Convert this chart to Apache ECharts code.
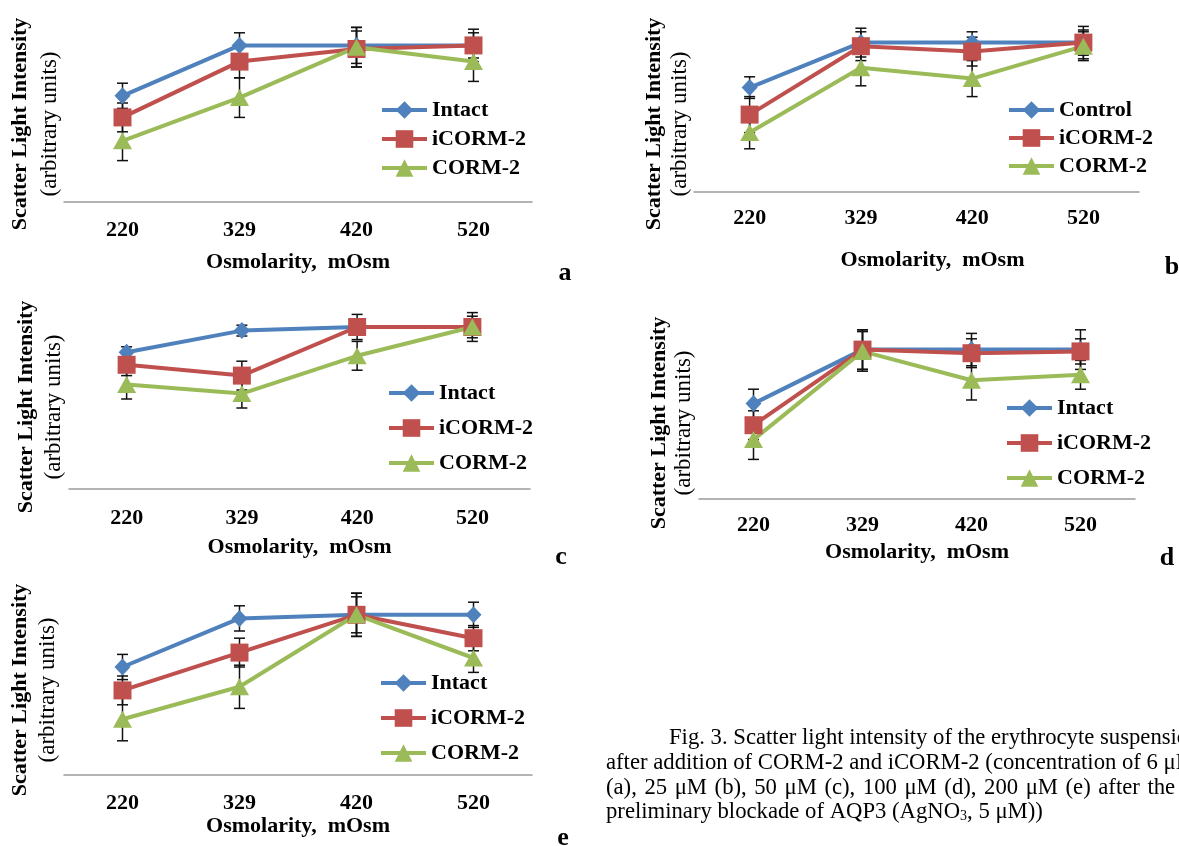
<!DOCTYPE html>
<html>
<head>
<meta charset="utf-8">
<style>
  html, body { margin: 0; padding: 0; background: #fff; }
  #main { width: 1179px; height: 846px; }
</style>
<script src="https://cdn.jsdelivr.net/npm/echarts@6/dist/echarts.min.js"></script>
</head>
<body>
<div id="main"></div>
<script>
var categories = ['220', '329', '420', '520'];
var seriesNames = ['Intact', 'iCORM-2', 'CORM-2'];
var seriesNamesB = ['Control', 'iCORM-2', 'CORM-2'];
var panelLetters = ['a', 'b', 'c', 'd', 'e'];

// relative scatter intensity (arbitrary units) and error
var aIntact = [59, 87, 87, 87],  aIntactErr = [7, 7, 10, 9];
var aICorm  = [47, 78, 85, 87],  aICormErr  = [8, 9, 10, 7];
var aCorm   = [34, 58, 86, 78],  aCormErr   = [11, 11, 11, 11];

var bControl = [58, 83, 83, 83], bControlErr = [6, 8, 6, 9];
var bICorm   = [43, 81, 78, 83], bICormErr   = [10, 8, 8, 7];
var bCorm    = [33, 69, 63, 81], bCormErr    = [9, 10, 10, 8];

var cIntact = [76, 88, 90, 90],  cIntactErr = [3, 3, 3, 3];
var cICorm  = [69, 63, 90, 90],  cICormErr  = [6, 8, 7, 8];
var cCorm   = [58, 53, 74, 90],  cCormErr   = [8, 8, 8, 6];

var dIntact = [53, 83, 83, 83],  dIntactErr = [8, 11, 9, 11];
var dICorm  = [41, 83, 81, 82],  dICormErr  = [8, 11, 8, 7];
var dCorm   = [33, 82, 66, 69],  dCormErr   = [11, 11, 11, 8];

var eIntact = [60, 87, 89, 89],  eIntactErr = [7, 7, 12, 7];
var eICorm  = [47, 68, 89, 76],  eICormErr  = [8, 8, 10, 7];
var eCorm   = [31, 49, 89, 65],  eCormErr   = [12, 12, 12, 8];

// justified caption: line 3 gets a hair space added to each gap
var captionLines = [
    'Fig. 3. Scatter light intensity of the erythrocyte suspension',
    'after addition of CORM-2 and iCORM-2 (concentration of 6 \u03bcM',
    '(a), 25 \u03bcM (b), 50 \u03bcM (c), 100 \u03bcM (d), 200 \u03bcM (e) after the'.split(' ').join(' \u200a'),
    'preliminary blockade of AQP3 (AgNO{sub|3}, 5 \u03bcM))'
];

var colorList = ['#4F81BD', '#C0504D', '#9BBB59'];
var symbols = ['diamond', 'rect', 'triangle'];
var symbolSizes = [[16, 17], 18, [19, 17]];
var serif = '"Liberation Serif", "Times New Roman", serif';

var panels = [
    { names: seriesNames, vals: [aIntact, aICorm, aCorm], errs: [aIntactErr, aICormErr, aCormErr],
      grid: { left: 64, top: 22, width: 468, height: 180 }, labelMargin: 17, nameGap: 49, namePad: 0,
      legend: { left: 380, top: 99, itemGap: 7 }, yTitle: [20, 50, 124], letter: [565, 273] },
    { names: seriesNamesB, vals: [bControl, bICorm, bCorm], errs: [bControlErr, bICormErr, bCormErr],
      grid: { left: 694, top: 12, width: 445, height: 180 }, labelMargin: 15, nameGap: 57, namePad: 32,
      legend: { left: 1007, top: 99, itemGap: 6 }, yTitle: [654, 680, 124], letter: [1172, 267] },
    { names: seriesNames, vals: [cIntact, cICorm, cCorm], errs: [cIntactErr, cICormErr, cCormErr],
      grid: { left: 69, top: 309, width: 461, height: 180 }, labelMargin: 18, nameGap: 47, namePad: 0,
      legend: { left: 387, top: 382, itemGap: 13 }, yTitle: [26, 54, 407], letter: [561, 557] },
    { names: seriesNames, vals: [dIntact, dICorm, dCorm], errs: [dIntactErr, dICormErr, dCormErr],
      grid: { left: 699, top: 319, width: 436, height: 180 }, labelMargin: 15, nameGap: 42, namePad: 0,
      legend: { left: 1005, top: 397, itemGap: 13 }, yTitle: [659, 684, 423], letter: [1167, 558] },
    { names: seriesNames, vals: [eIntact, eICorm, eCorm], errs: [eIntactErr, eICormErr, eCormErr],
      grid: { left: 64, top: 595, width: 468, height: 180 }, labelMargin: 17, nameGap: 37, namePad: 0,
      legend: { left: 379, top: 672, itemGap: 13 }, yTitle: [20, 48, 690], letter: [563, 838] }
];

function renderErr(params, api) {
    var x = api.value(0), v = api.value(1), e = api.value(2);
    var hi = api.coord([x, v + e]);
    var lo = api.coord([x, v - e]);
    var w = 5.5;
    var st = { stroke: '#111', lineWidth: 1.5 };
    return {
        type: 'group',
        children: [
            { type: 'line', shape: { x1: hi[0], y1: hi[1], x2: lo[0], y2: lo[1] }, style: st },
            { type: 'line', shape: { x1: hi[0] - w, y1: hi[1], x2: hi[0] + w, y2: hi[1] }, style: st },
            { type: 'line', shape: { x1: lo[0] - w, y1: lo[1], x2: lo[0] + w, y2: lo[1] }, style: st }
        ]
    };
}

var grids = [], xAxes = [], yAxes = [], legends = [], series = [], graphics = [];

panels.forEach(function (p, k) {
    grids.push(p.grid);
    xAxes.push({
        type: 'category',
        gridIndex: k,
        data: categories,
        boundaryGap: true,
        axisLine: { lineStyle: { color: '#9a9a9a', width: 1.5 } },
        axisTick: { show: false },
        axisLabel: { margin: p.labelMargin, color: '#000', fontFamily: serif, fontWeight: 'bold', fontSize: 22 },
        name: 'Osmolarity,  mOsm',
        nameLocation: 'middle',
        nameGap: p.nameGap,
        nameTextStyle: { color: '#000', fontFamily: serif, fontWeight: 'bold', fontSize: 22,
                         padding: [0, 0, 0, p.namePad] }
    });
    yAxes.push({ type: 'value', gridIndex: k, min: 0, max: 100, show: false });
    legends.push({
        data: p.names,
        orient: 'vertical',
        left: p.legend.left,
        top: p.legend.top,
        itemGap: p.legend.itemGap,
        itemWidth: 45,
        itemHeight: 22,
        padding: 0,
        selectedMode: false,
        lineStyle: { width: 4 },
        textStyle: { color: '#000', fontFamily: serif, fontWeight: 'bold', fontSize: 22, lineHeight: 22 }
    });
    for (var s = 0; s < 3; s++) {
        series.push({
            type: 'line',
            name: p.names[s],
            xAxisIndex: k,
            yAxisIndex: k,
            data: p.vals[s],
            symbol: symbols[s],
            symbolSize: symbolSizes[s],
            showAllSymbol: true,
            z: 3,
            lineStyle: { color: colorList[s], width: 4 },
            itemStyle: { color: colorList[s] },
            emphasis: { disabled: true }
        });
    }
    for (var s2 = 0; s2 < 3; s2++) {
        var vals = p.vals[s2], errs = p.errs[s2];
        series.push({
            type: 'custom',
            name: p.names[s2] + ' error',
            xAxisIndex: k,
            yAxisIndex: k,
            renderItem: renderErr,
            encode: { x: 0, y: 1 },
            data: vals.map(function (v, i) { return [i, v, errs[i]]; }),
            z: 2,
            silent: true
        });
    }
    graphics.push({
        type: 'text', x: p.yTitle[0], y: p.yTitle[2], rotation: Math.PI / 2,
        style: { text: 'Scatter Light Intensity', font: 'bold 22px ' + serif, fill: '#000',
                 textAlign: 'center', textVerticalAlign: 'middle' }
    });
    graphics.push({
        type: 'text', x: p.yTitle[1], y: p.yTitle[2], rotation: Math.PI / 2,
        style: { text: '(arbitrary units)', font: '23px ' + serif, fill: '#000',
                 textAlign: 'center', textVerticalAlign: 'middle' }
    });
    graphics.push({
        type: 'text', x: p.letter[0], y: p.letter[1],
        style: { text: panelLetters[k], font: 'bold 26px ' + serif, fill: '#000',
                 textAlign: 'center', textVerticalAlign: 'middle' }
    });
});

var captionY = [738, 763, 788, 812];
captionLines.forEach(function (line, i) {
    graphics.push({
        type: 'text',
        x: i === 0 ? 669 : 606,
        y: captionY[i],
        style: {
            text: line,
            font: '22.7px ' + serif,
            fill: '#000',
            textVerticalAlign: 'middle',
            rich: { sub: { fontSize: 14, fontFamily: serif, verticalAlign: 'bottom', padding: [8, 0, 0, 0] } }
        }
    });
});

var myChart = echarts.init(document.getElementById('main'));
var option = {
    backgroundColor: '#fff',
    animation: false,
    grid: grids,
    xAxis: xAxes,
    yAxis: yAxes,
    legend: legends,
    series: series,
    graphic: graphics
};
myChart.setOption(option);
window.addEventListener('resize', function () {
    myChart.resize();
});
</script>
</body>
</html>
